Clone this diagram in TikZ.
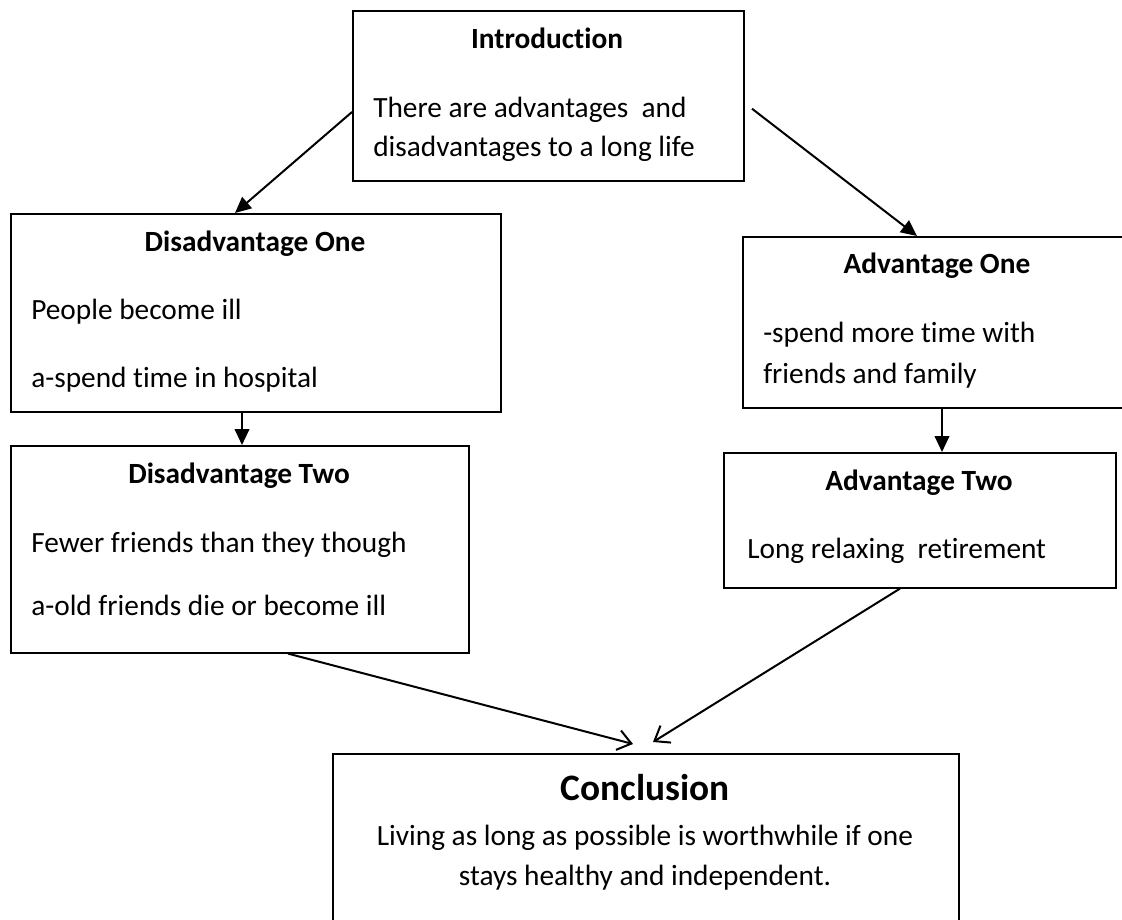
\documentclass[tikz,border=0pt]{standalone}
\usepackage{fontspec}
\setmainfont{Carlito}[Ligatures=NoCommon]
\usetikzlibrary{arrows.meta, calc}

\begin{document}
\begin{tikzpicture}[
    x=0.75pt, y=-0.75pt,
    % styles for the boxes and their texts
    card/.style 2 args={rectangle, draw=black, line width=1.2pt, anchor=north west, inner sep=0pt, minimum width=#1*0.75pt, minimum height=#2*0.75pt},
    head/.style={anchor=base, inner sep=0pt, font=\fontsize{22}{26}\selectfont\bfseries},
    body/.style={anchor=base west, inner sep=0pt, font=\fontsize{22}{26}\selectfont},
    % styles for the arrows
    arrow/.style={-{Triangle[length=12pt, width=11pt]}, line width=1.5pt},
    openarrow/.style={-{Straight Barb[length=10pt, width=15pt]}, line width=1.5pt}
]
\path[use as bounding box] (0,0) rectangle (1122,920);
\clip (0,0) rectangle (1122,920);

% Boxes
\node (intro)  [card={391}{170}] at (352,10) {};
\node (disOne) [card={490}{198}] at (10,213) {};
\node (disTwo) [card={458}{207}] at (10,445) {};
\node (advOne) [card={420}{171}] at (742,236) {};
\node (advTwo) [card={392}{135}] at (723,452) {};
\node (concl)  [card={626}{200}] at (332,753) {};

% Texts
\node (introHead) [head] at (547,49) {Introduction};
\node (introA) [body] at (373,118) {There are advantages \ and};
\node (introB) [body] at (373,157) {disadvantages to a long life};

\node (disOneHead) [head] at (255,252) {Disadvantage One};
\node (disOneA) [body] at (31,320) {People become ill};
\node (disOneB) [body] at (31,387) {a-spend time in hospital};

\node (disTwoHead) [head] at (239,483) {Disadvantage Two};
\node (disTwoA) [body] at (31,552) {Fewer friends than they though};
\node (disTwoB) [body] at (31,615) {a-old friends die or become ill};

\node (advOneHead) [head] at (937,274) {Advantage One};
\node (advOneA) [body] at (763,343) {-spend more time with};
\node (advOneB) [body] at (763,383) {friends and family};

\node (advTwoHead) [head] at (919,490) {Advantage Two};
\node (advTwoA) [body] at (747,558) {Long relaxing \ retirement};

\node (conclHead) [head, font=\fontsize{28}{33}\selectfont\bfseries] at (645,800) {Conclusion};
\node (conclA) [head, font=\fontsize{22}{26}\selectfont] at (645,845) {Living as long as possible is worthwhile if one};
\node (conclB) [head, font=\fontsize{22}{26}\selectfont] at (645,885) {stays healthy and independent.};

% Arrows
\draw [arrow] (intro.west |- 0,112) -- (disOne.north -| 235,0);
\draw [arrow, shorten <=7pt] (intro.east |- 0,103) -- (advOne.north -| 917,0);
\draw [arrow] (disOne.south -| 242,0) -- (disTwo.north -| 242,0);
\draw [arrow] (advOne.south -| 942,0) -- (advTwo.north -| 942,0);

% Arrows into the conclusion
\draw [openarrow] (disTwo.south -| 288,0) -- ($(concl.north -| 633,0)+(0,-9)$);
\draw [openarrow] (advTwo.south -| 900,0) -- ($(concl.north -| 653,0)+(0,-11)$);

\end{tikzpicture}
\end{document}
